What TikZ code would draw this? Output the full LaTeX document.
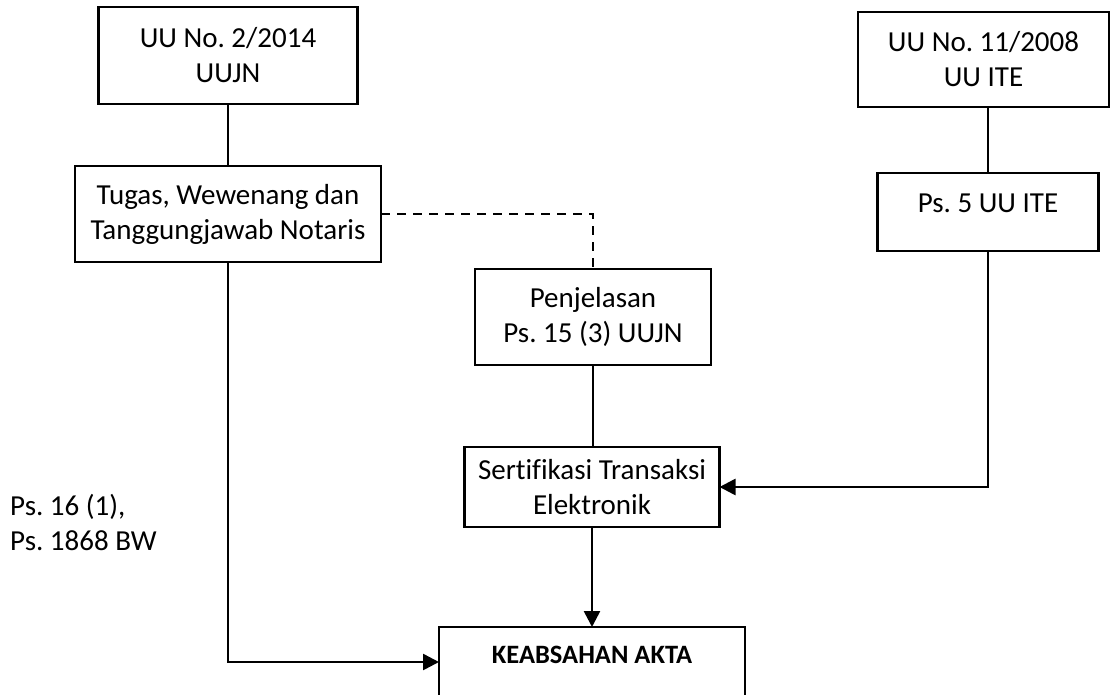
\documentclass[tikz,border=0pt]{standalone}
\usepackage{fontspec}
\setmainfont{Carlito}[Ligatures=NoCommon]
\usetikzlibrary{positioning,arrows.meta}
\frenchspacing

\begin{document}
\begin{tikzpicture}[
    x=1pt, y=-1pt,
    font=\fontsize{29}{35}\selectfont,
    box/.style={draw, line width=2.6pt, outer sep=0pt, inner sep=0pt, align=center},
    annot/.style={inner sep=0pt, align=left, anchor=west},
    link/.style={line width=2.6pt},
    dashlink/.style={line width=2pt, dash pattern=on 9pt off 7pt},
    arr/.style={link, -{Triangle[length=16pt,width=16pt]}}
]
  \useasboundingbox (0,0) rectangle (1110,694);

  % left branch: UUJN
  \node[box, minimum width=259pt, minimum height=97pt] (uujn) at (228,55.5) {UU No. 2/2014\\UUJN};
  \node[box, minimum width=306pt, minimum height=96pt, below=62pt of uujn] (tugas) {Tugas, Wewenang dan\\Tanggungjawab Notaris};
  \draw[link] (uujn) -- (tugas);

  % right branch: UU ITE
  \node[box, minimum width=251pt, minimum height=95pt] (uuite) at (983.5,59.5) {UU No. 11/2008\\UU ITE};
  \node[box, minimum width=221pt, minimum height=78pt, text depth=18pt, below=66pt of uuite, xshift=4.5pt] (ps5) {Ps. 5 UU ITE};
  \draw[link] (ps5.north) -- (ps5.north |- uuite.south);

  % middle column
  \node[box, minimum width=236pt, minimum height=96pt] (penj) at (593,317) {Penjelasan\\Ps. 15 (3) UUJN};
  \node[box, minimum width=255pt, minimum height=80pt, below=82pt of penj, xshift=-1pt] (sert) {Sertifikasi Transaksi\\Elektronik};
  \node[box, minimum width=306pt, minimum height=70pt, text depth=15pt, below=100pt of sert, font=\fontsize{26.5}{32}\selectfont\bfseries] (keab) {KEABSAHAN AKTA};

  \draw[dashlink] (tugas.east) -| (penj.north);
  \draw[link] (penj.south) -- (penj.south |- sert.north);
  \draw[arr] (ps5.south) |- (sert.east);
  \draw[arr] (sert.south) -- (sert.south |- keab.north);
  \draw[arr] (tugas.south) |- (keab.west);

  \node[annot] (pasal) at (10,522) {Ps. 16 (1),\\Ps. 1868 BW};
\end{tikzpicture}
\end{document}
